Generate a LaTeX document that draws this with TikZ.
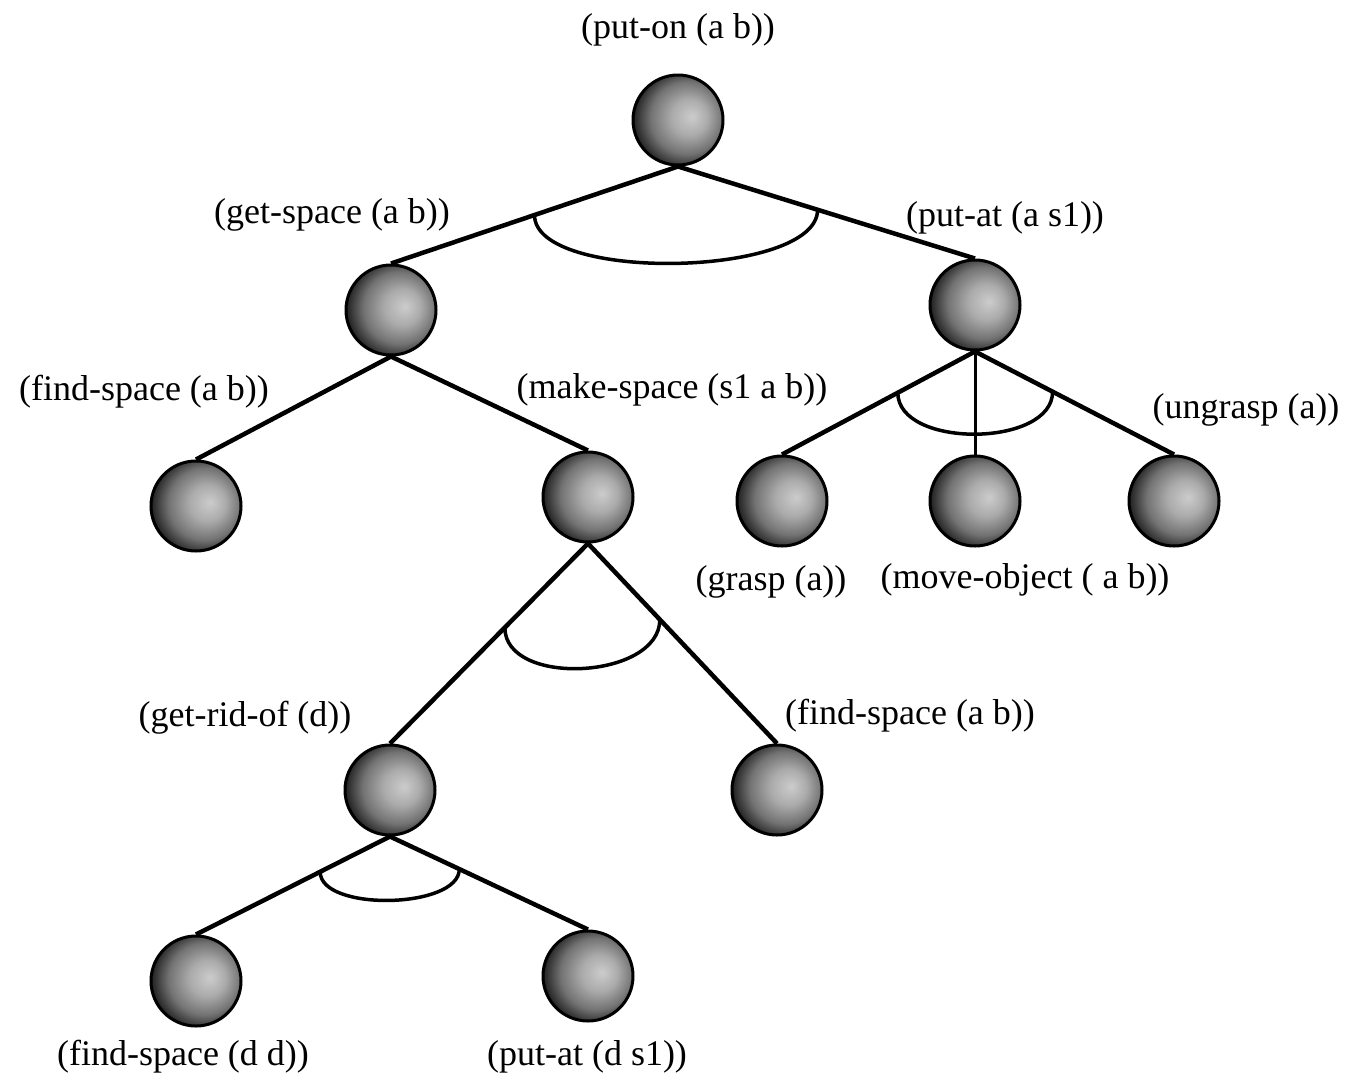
\documentclass[tikz,border=0pt]{standalone}
\usepackage{fontspec}
\setmainfont{Liberation Serif}
\usetikzlibrary{calc}
\pgfdeclareradialshading{sph}{\pgfpoint{8bp}{2bp}}{color(0bp)=(black!20); color(10bp)=(black!33); color(20bp)=(black!55); color(27bp)=(black!82); color(32bp)=(black!97); color(50bp)=(black)}
\begin{document}
\begin{tikzpicture}[x=1pt,y=-1pt,
  ball/.style={circle, draw=black, line width=3pt, minimum size=90pt, inner sep=0pt, shading=sph},
  lbl/.style={font=\fontsize{36}{40}\selectfont, inner sep=0pt},
  edge/.style={line width=4.5pt},
  midedge/.style={line width=3pt},
  andarc/.style={line width=3.5pt}]
\useasboundingbox (0,0) rectangle (1350,1080);

% nodes
\node[ball] (root) at (678,120) {};
\node[ball] (gs)   at (391,310) {};
\node[ball] (pa)   at (975,305) {};
\node[ball] (fs1)  at (196,506) {};
\node[ball] (ms)   at (588,497) {};
\node[ball] (gr)   at (782,501) {};
\node[ball] (mo)   at (975,501) {};
\node[ball] (ug)   at (1174,501) {};
\node[ball] (gro)  at (390,790) {};
\node[ball] (fs2)  at (777,790) {};
\node[ball] (fs3)  at (196,981) {};
\node[ball] (pa2)  at (588,976) {};

% labels
\node[lbl] (lroot) at (678,30)  {(put-on (a b))};
\node[lbl] (lgs)   at (332,215) {(get-space (a b))};
\node[lbl] (lpa)   at (1005,218) {(put-at (a s1))};
\node[lbl] (lfs1)  at (144,392) {(find-space (a b))};
\node[lbl] (lms)   at (672,390) {(make-space (s1 a b))};
\node[lbl] (lug)   at (1246,410) {(ungrasp (a))};
\node[lbl] (lgr)   at (771,582) {(grasp (a))};
\node[lbl] (lmo)   at (1025,580) {(move-object ( a b))};
\node[lbl] (lgro)  at (245,718) {(get-rid-of (d))};
\node[lbl] (lfs2)  at (910,716) {(find-space (a b))};
\node[lbl] (lfs3)  at (183,1057) {(find-space (d d))};
\node[lbl] (lpa2)  at (587,1057) {(put-at (d s1))};

% edges
\draw[edge] (root.south) -- (gs.north);
\draw[edge] (root.south) -- (pa.north);
\draw[edge] (gs.south) -- (fs1.north);
\draw[edge] (gs.south) -- (ms.north);
\draw[edge] (pa.south) -- (gr.north);
\draw[midedge] (pa.south) -- (mo.north);
\draw[edge] (pa.south) -- (ug.north);
\draw[edge] (ms.south) -- (gro.north);
\draw[edge] (ms.south) -- (fs2.north);
\draw[edge] (gro.south) -- (fs3.north);
\draw[edge] (gro.south) -- (pa2.north);

% AND arcs
\path (root.south) -- (gs.north) coordinate[pos=0.5] (a1l);
\path (root.south) -- (pa.north) coordinate[pos=0.47] (a1r);
\draw[andarc] (a1l) .. controls ($(a1l)+(0,68)$) and ($(a1r)+(0,68)$) .. (a1r);

\path (pa.south) -- (gr.north) coordinate[pos=0.40] (a2l);
\path (pa.south) -- (ug.north) coordinate[pos=0.39] (a2r);
\draw[andarc] (a2l) .. controls ($(a2l)+(0,56)$) and ($(a2r)+(0,56)$) .. (a2r);

\path (ms.south) -- (gro.north) coordinate[pos=0.42] (a3l);
\path (ms.south) -- (fs2.north) coordinate[pos=0.38] (a3r);
\draw[andarc] (a3l) .. controls ($(a3l)+(0,60)$) and ($(a3r)+(0,60)$) .. (a3r);

\path (gro.south) -- (fs3.north) coordinate[pos=0.36] (a4l);
\path (gro.south) -- (pa2.north) coordinate[pos=0.35] (a4r);
\draw[andarc] (a4l) .. controls ($(a4l)+(0,40)$) and ($(a4r)+(0,40)$) .. (a4r);
\end{tikzpicture}
\end{document}
